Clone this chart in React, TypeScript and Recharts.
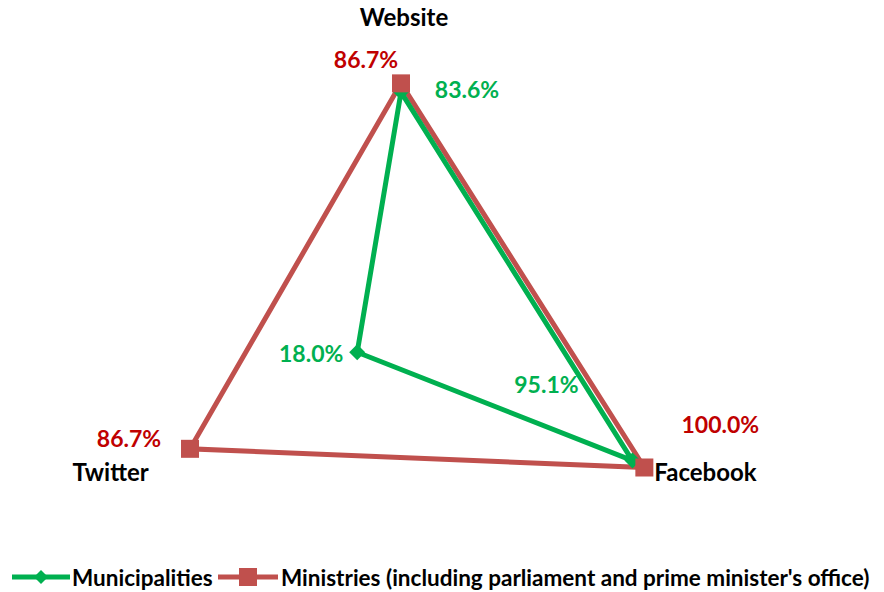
import React from "react";
import { RadarChart, Radar, PolarAngleAxis, PolarRadiusAxis, Legend } from "recharts";

const categories = ["Website", "Facebook", "Twitter"];
const municipalities = [83.6, 95.1, 18.0];
const ministries = [86.7, 100.0, 86.7];
const seriesNames = ["Municipalities", "Ministries (including parliament and prime minister's office)"];

const data = categories.map((c, i) => ({ axis: c, mun: municipalities[i], min: ministries[i] }));

const GREEN = "#00B050";
const RED = "#C0504D";
const RED_TEXT = "#C00000";
const FONT = "Lato, 'Open Sans', sans-serif";

const munOffsets = [
  { dx: 66, dy: -3 },
  { dx: -86, dy: -77 },
  { dx: -46, dy: 1 },
];
const minOffsets = [
  { dx: -35, dy: -24 },
  { dx: 76, dy: -44 },
  { dx: -61, dy: -11 },
];

const makeLabel = (offsets: { dx: number; dy: number }[], color: string) => (props: any) => {
  const { x, y, value, index } = props;
  const o = offsets[index] || { dx: 0, dy: 0 };
  return (
    <text
      key={`lbl-${color}-${index}`}
      x={x + o.dx}
      y={y + o.dy}
      textAnchor="middle"
      dominantBaseline="central"
      fill={color}
      fontFamily={FONT}
      fontWeight={700}
      fontSize={23}
    >
      {Number(value).toFixed(1)}%
    </text>
  );
};

const diamondDot = (props: any) => {
  const { cx, cy, index } = props;
  const s = 8;
  return (
    <path
      key={`d-${index}`}
      d={`M${cx},${cy - s} L${cx + s},${cy} L${cx},${cy + s} L${cx - s},${cy} Z`}
      fill={GREEN}
    />
  );
};

const squareDot = (props: any) => {
  const { cx, cy, index } = props;
  const s = 9;
  return <rect key={`s-${index}`} x={cx - s} y={cy - s} width={2 * s} height={2 * s} fill={RED} />;
};

const tickOffsets: Record<string, { dx: number; dy: number; anchor: string }> = {
  Website: { dx: 3, dy: -22, anchor: "middle" },
  Facebook: { dx: 3, dy: 0, anchor: "start" },
  Twitter: { dx: -2, dy: 0, anchor: "end" },
};

const AngleTick = (props: any) => {
  const { x, y, payload } = props;
  const o = tickOffsets[payload.value] || { dx: 0, dy: 0, anchor: "middle" };
  return (
    <text
      x={x + o.dx}
      y={y + o.dy}
      textAnchor={o.anchor as any}
      dominantBaseline="central"
      fill="#000"
      fontFamily={FONT}
      fontWeight={700}
      fontSize={24}
    >
      {payload.value}
    </text>
  );
};

const LegendContent = () => (
  <svg width={884} height={30} style={{ display: "block", overflow: "visible" }}>
    <g>
      <line x1={12} y1={15} x2={70} y2={15} stroke={GREEN} strokeWidth={5} />
      <path d="M41,8 L48,15 L41,22 L34,15 Z" fill={GREEN} />
      <text x={72} y={15} dominantBaseline="central" fontFamily={FONT} fontWeight={700} fontSize={22.5} fill="#000">
        {seriesNames[0]}
      </text>
      <line x1={218} y1={15} x2={278} y2={15} stroke={RED} strokeWidth={5} />
      <rect x={239} y={6} width={18} height={18} fill={RED} />
      <text x={281} y={15} dominantBaseline="central" fontFamily={FONT} fontWeight={700} fontSize={22.5} fill="#000">
        {seriesNames[1]}
      </text>
    </g>
  </svg>
);

export default function App() {
  return (
    <div style={{ width: 884, height: 592, background: "#fff", marginTop: -8, marginLeft: -8, position: "relative" }}>
      <RadarChart
        width={884}
        height={592}
        data={data}
        cx={401}
        cy={327}
        outerRadius={281}
        margin={{ top: 0, right: 0, bottom: 0, left: 0 }}
      >
        <PolarAngleAxis dataKey="axis" tick={<AngleTick />} axisLine={false} tickLine={false} />
        <PolarRadiusAxis domain={[0, 100]} tick={false} axisLine={false} />
        <Radar
          name={seriesNames[1]}
          dataKey="min"
          stroke={RED}
          strokeWidth={5}
          fill="none"
          fillOpacity={0}
          dot={false}
          isAnimationActive={false}
        />
        <Radar
          name={seriesNames[0]}
          dataKey="mun"
          stroke={GREEN}
          strokeWidth={5}
          fill="none"
          fillOpacity={0}
          dot={diamondDot}
          label={makeLabel(munOffsets, GREEN)}
          isAnimationActive={false}
        />
        <Radar
          name={seriesNames[1] + " markers"}
          dataKey="min"
          stroke="none"
          fill="none"
          fillOpacity={0}
          dot={squareDot}
          label={makeLabel(minOffsets, RED_TEXT)}
          isAnimationActive={false}
          legendType="none"
        />
        <Legend
          content={<LegendContent />}
          wrapperStyle={{ position: "absolute", left: 0, top: 562, width: 884, height: 30, overflow: "visible" }}
        />
      </RadarChart>
    </div>
  );
}
